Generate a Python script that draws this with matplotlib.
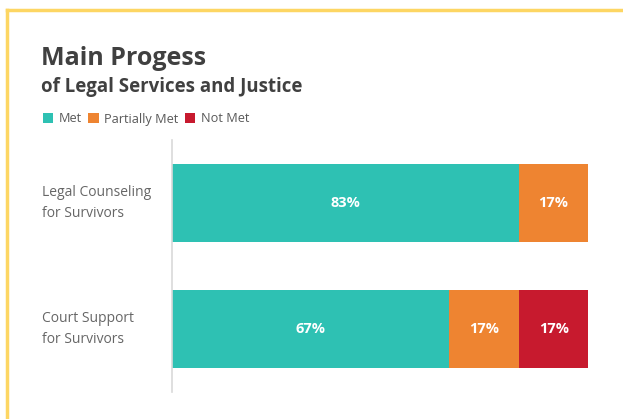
import matplotlib.pyplot as plt
from matplotlib.patches import Patch
from matplotlib.lines import Line2D
from matplotlib import transforms

# data
categories = ['Legal Counseling\nfor Survivors', 'Court Support\nfor Survivors']
met = [83.3, 66.7]
partially_met = [16.7, 16.7]
not_met = [0.0, 16.7]
series_names = ['Met', 'Partially Met', 'Not Met']
colors = ['#2EC1B3', '#EE8431', '#C71A2E']

plt.rcParams['font.family'] = ['Open Sans', 'DejaVu Sans']

fig = plt.figure(figsize=(6.23, 4.19), dpi=100)
W, H = 623, 419
ax = fig.add_axes([172 / W, 1 - 392 / H, (588 - 172) / W, (392 - 140) / H])

y = list(range(len(categories)))
left = [0.0] * len(categories)
for vals, col in zip([met, partially_met, not_met], colors):
    bars = ax.barh(y, vals, left=left, height=0.625, color=col)
    for b, v in zip(bars, vals):
        if v > 0:
            ax.text(b.get_x() + b.get_width() / 2, b.get_y() + b.get_height() / 2,
                    '{:.0f}%'.format(v), ha='center', va='center', color='white',
                    fontsize=10.5, fontweight='bold')
    left = [l + v for l, v in zip(left, vals)]

ax.set_xlim(0, 100)
ax.set_ylim(1.5, -0.5)
ax.set_xticks([])
ax.set_yticks([])
for s in ['top', 'right', 'bottom']:
    ax.spines[s].set_visible(False)
ax.spines['left'].set_color('#D9D9D9')
ax.spines['left'].set_linewidth(1.2)

# category labels, left aligned
trans = transforms.blended_transform_factory(fig.transFigure, ax.transData)
for yi, cat in zip(y, categories):
    ax.text(42 / W, yi, cat, transform=trans, ha='left', va='center',
            fontsize=10, color='#666666', linespacing=1.5)

# titles
fig.text(41 / W, 1 - 65 / H, 'Main Progess', fontsize=18, fontweight='bold', color='#404040')
fig.text(41 / W, 1 - 92 / H, 'of Legal Services and Justice', fontsize=13.4, fontweight='bold', color='#404040')

handles = [Patch(facecolor=c, edgecolor='none') for c in colors]
fig.legend(handles, series_names, loc='center left', bbox_to_anchor=(31 / W, 1 - 119 / H),
           ncol=3, frameon=False, fontsize=9.2, handlelength=0.85, handleheight=0.85,
           handletextpad=0.4, columnspacing=0.5, labelcolor='#595959')

# yellow frame
fig.add_artist(Line2D([7 / W, 1], [1 - 10 / H, 1 - 10 / H], color='#FDD663', lw=2.5, transform=fig.transFigure))
fig.add_artist(Line2D([7 / W, 7 / W], [0, 1 - 10 / H], color='#FDD663', lw=2.5, transform=fig.transFigure))

fig.savefig('out.png', dpi=100, facecolor='white')
